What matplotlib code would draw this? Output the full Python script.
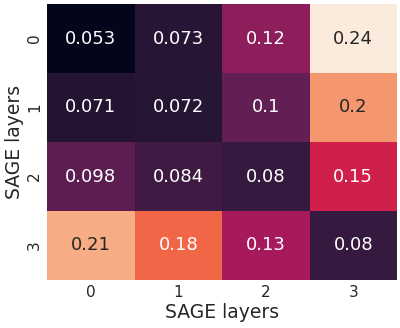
import numpy as np
import matplotlib
matplotlib.use("Agg")
import matplotlib.pyplot as plt
import seaborn as sns

sns.set_theme(style="white")
plt.rcParams['font.family'] = ['DejaVu Sans']

row_labels = ["0", "1", "2", "3"]
col_labels = ["0", "1", "2", "3"]
values = np.array([
    [0.053, 0.073, 0.12, 0.24],
    [0.071, 0.072, 0.1, 0.2],
    [0.098, 0.084, 0.08, 0.15],
    [0.21, 0.18, 0.13, 0.08],
])

fig = plt.figure(figsize=(4.0, 3.28), dpi=100)
ax = fig.add_axes([47/400, 1 - 280/328, 350/400, 276/328])
sns.heatmap(values, annot=True, cmap="rocket", cbar=False, ax=ax,
            xticklabels=col_labels, yticklabels=row_labels,
            linewidths=0,
            annot_kws={"fontsize": 13})
ax.set_xlabel("SAGE layers", fontsize=13.5, color="#262626", labelpad=2)
ax.set_ylabel("SAGE layers", fontsize=13.5, color="#262626", labelpad=2)
ax.tick_params(axis="both", labelsize=11, colors="#262626", length=0)
plt.setp(ax.get_yticklabels(), rotation=90, va="center")
fig.savefig("out.png", dpi=100)
